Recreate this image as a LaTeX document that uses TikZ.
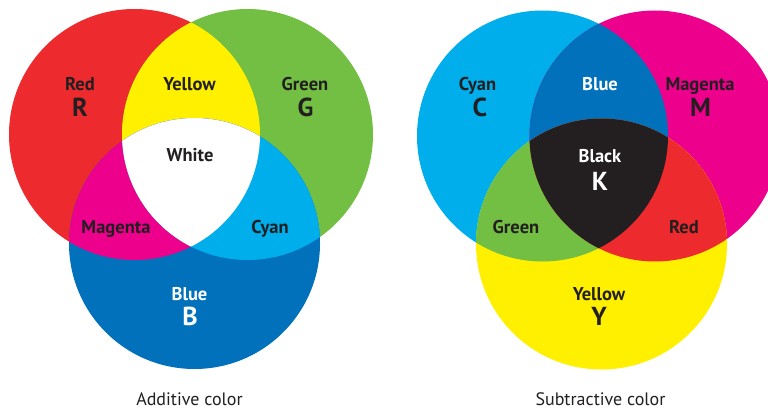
\documentclass[tikz,border=0pt]{standalone}
\usepackage{fontspec}
\setmainfont{PT Sans}
\usetikzlibrary{positioning}
\definecolor{pred}{HTML}{ED2A2E}
\definecolor{pgreen}{HTML}{72BF44}
\definecolor{pblue}{HTML}{0071BA}
\definecolor{pcyan}{HTML}{00AEEB}
\definecolor{pmagenta}{HTML}{EC008C}
\definecolor{pyellow}{HTML}{FFF000}
\definecolor{pblack}{HTML}{231F20}
\newcommand{\crad}{125.5pt}
\tikzstyle{lbl} = [anchor=base, inner sep=0pt, text=pblack, font=\bfseries\fontsize{18.5}{18.5}\selectfont]
\tikzstyle{letter} = [lbl, font=\bfseries\fontsize{26}{26}\selectfont]
\tikzstyle{caption} = [anchor=base, inner sep=0pt, text=pblack, font=\fontsize{18}{18}\selectfont]

\begin{document}
\begin{tikzpicture}[x=1pt, y=-1pt]

\useasboundingbox (0,0) rectangle (768,409);

% Circle centres
\coordinate (cR) at (134.5,134.5);
\coordinate (cG) at (247.5,134.5);
\coordinate (cB) at (194.5,243.5);
\coordinate (cC) at (542.5,136);
\coordinate (cM) at (655,136);
\coordinate (cY) at (601.5,244);

\begin{scope}
\clip (0,0) rectangle (768,409);

% Additive
\fill [pred] (cR) circle (\crad);
\fill [pgreen] (cG) circle (\crad);
\fill [pblue] (cB) circle (\crad);
\begin{scope}
\clip (cR) circle (\crad);
\fill [pyellow] (cG) circle (\crad);
\fill [pmagenta] (cB) circle (\crad);
\end{scope}
\begin{scope}
\clip (cG) circle (\crad);
\fill [pcyan] (cB) circle (\crad);
\clip (cB) circle (\crad);
\fill [white] (cR) circle (\crad);
\end{scope}

% Subtractive
\fill [pcyan] (cC) circle (\crad);
\fill [pmagenta] (cM) circle (\crad);
\fill [pyellow] (cY) circle (\crad);
\begin{scope}
\clip (cC) circle (\crad);
\fill [pblue] (cM) circle (\crad);
\fill [pgreen] (cY) circle (\crad);
\end{scope}
\begin{scope}
\clip (cM) circle (\crad);
\fill [pred] (cY) circle (\crad);
\clip (cY) circle (\crad);
\fill [pblack] (cC) circle (\crad);
\end{scope}
\end{scope}

% Additive labels
\node (red) [lbl] at (80,91) {Red};
\node (redR) [letter] at (80,116.5) {R};
\node (green) [lbl] at (305,91) {Green};
\node (greenG) [letter] at (305.5,116.5) {G};
\node (yellow) [lbl] at (189.5,91) {Yellow};
\node (white) [lbl] at (190,161.5) {White};
\node (magenta) [lbl] at (116,233.5) {Magenta};
\node (cyan) [lbl] at (270,233.5) {Cyan};
\node (blue) [lbl, text=white] at (189.5,300.5) {Blue};
\node (blueB) [letter, text=white] at (190,325) {B};
\node (additive) [caption] at (189.5,405) {Additive color};

% Subtractive labels
\node (scyan) [lbl] at (477.5,91) {Cyan};
\node (scyanC) [letter] at (480,116.5) {C};
\node (sblue) [lbl, text=white] at (600,91) {Blue};
\node (smagenta) [lbl] at (700,91) {Magenta};
\node (smagentaM) [letter] at (700.5,116.5) {M};
\node (sblack) [lbl, text=white] at (600,162.5) {Black};
\node (sblackK) [letter, text=white] at (600,190) {K};
\node (sgreen) [lbl] at (516,233.5) {Green};
\node (sred) [lbl] at (684,233.5) {Red};
\node (syellow) [lbl] at (599,300) {Yellow};
\node (syellowY) [letter] at (599,325) {Y};
\node (subtractive) [caption] at (600.5,405) {Subtractive color};

\end{tikzpicture}
\end{document}
